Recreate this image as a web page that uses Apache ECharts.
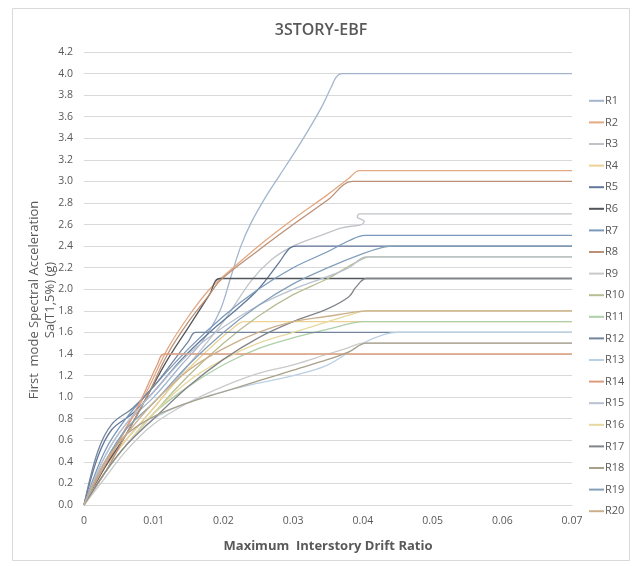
<!DOCTYPE html>
<html>
<head>
<meta charset="utf-8">
<script src="https://cdn.jsdelivr.net/npm/echarts@6/dist/echarts.min.js"></script>
<style>html,body{margin:0;padding:0;background:#fff;}#chart{width:642px;height:566px;}</style>
</head>
<body>
<div id="chart"></div>
<script>
// [drift ratio, Sa(T1,5%) (g)] pairs
const R1 = [[0,0],[0.003,0.45],[0.006,0.75],[0.01,1.0],[0.014,1.3],[0.017,1.52],[0.0195,1.8],[0.021,2.1],[0.0225,2.4],[0.024,2.62],[0.026,2.85],[0.028,3.05],[0.031,3.35],[0.034,3.68],[0.0355,3.88],[0.0362,3.97],[0.037,4.0],[0.07,4.0]];
const R2 = [[0,0],[0.003,0.35],[0.006,0.7],[0.009,1.05],[0.012,1.45],[0.015,1.75],[0.018,2.0],[0.02,2.12],[0.025,2.4],[0.03,2.65],[0.035,2.88],[0.038,3.03],[0.0395,3.1],[0.07,3.1]];
const R3 = [[0,0],[0.003,0.35],[0.006,0.6],[0.01,0.9],[0.015,1.3],[0.02,1.7],[0.024,2.08],[0.027,2.28],[0.03,2.4],[0.034,2.5],[0.037,2.57],[0.0398,2.6],[0.0402,2.63],[0.0392,2.67],[0.0395,2.7],[0.07,2.7]];
const R4 = [[0,0],[0.003,0.35],[0.006,0.6],[0.01,0.9],[0.014,1.2],[0.018,1.45],[0.021,1.62],[0.023,1.7],[0.07,1.7]];
const R5 = [[0,0],[0.002,0.45],[0.004,0.7],[0.007,0.85],[0.01,1.05],[0.014,1.35],[0.018,1.6],[0.022,1.82],[0.025,2.0],[0.028,2.25],[0.0295,2.38],[0.0305,2.4],[0.07,2.4]];
const R6 = [[0,0],[0.003,0.35],[0.006,0.65],[0.009,1.0],[0.012,1.35],[0.015,1.65],[0.018,1.95],[0.0195,2.1],[0.07,2.1]];
const R7 = [[0,0],[0.003,0.5],[0.006,0.8],[0.01,1.1],[0.015,1.45],[0.02,1.75],[0.025,2.0],[0.03,2.2],[0.035,2.35],[0.038,2.45],[0.0403,2.5],[0.07,2.5]];
const R8 = [[0,0],[0.003,0.3],[0.006,0.65],[0.009,1.0],[0.012,1.4],[0.015,1.7],[0.018,1.95],[0.0195,2.08],[0.025,2.36],[0.03,2.6],[0.035,2.83],[0.0385,3.0],[0.07,3.0]];
const R9 = [[0,0],[0.003,0.25],[0.006,0.5],[0.01,0.75],[0.015,0.95],[0.02,1.1],[0.025,1.22],[0.03,1.3],[0.035,1.4],[0.038,1.46],[0.04,1.5],[0.07,1.5]];
const R10 = [[0,0],[0.003,0.3],[0.006,0.55],[0.01,0.85],[0.015,1.2],[0.02,1.5],[0.025,1.75],[0.03,1.95],[0.035,2.1],[0.039,2.25],[0.041,2.3],[0.07,2.3]];
const R11 = [[0,0],[0.003,0.3],[0.006,0.55],[0.01,0.85],[0.015,1.1],[0.02,1.3],[0.025,1.45],[0.03,1.55],[0.035,1.63],[0.038,1.68],[0.04,1.7],[0.07,1.7]];
const R12 = [[0,0],[0.002,0.5],[0.004,0.75],[0.007,0.9],[0.01,1.1],[0.013,1.35],[0.015,1.52],[0.016,1.6],[0.07,1.6]];
const R13 = [[0,0],[0.003,0.3],[0.006,0.55],[0.01,0.8],[0.015,0.95],[0.02,1.05],[0.025,1.13],[0.03,1.2],[0.035,1.3],[0.04,1.5],[0.043,1.58],[0.045,1.6],[0.07,1.6]];
const R14 = [[0,0],[0.002,0.25],[0.005,0.6],[0.008,0.95],[0.0105,1.3],[0.0115,1.4],[0.07,1.4]];
const R15 = [[0,0],[0.003,0.45],[0.006,0.75],[0.01,1.05],[0.015,1.4],[0.02,1.65],[0.025,1.85],[0.03,2.0],[0.035,2.12],[0.038,2.2],[0.0405,2.3],[0.07,2.3]];
const R16 = [[0,0],[0.003,0.3],[0.006,0.55],[0.01,0.85],[0.015,1.15],[0.02,1.35],[0.025,1.5],[0.03,1.6],[0.035,1.7],[0.038,1.76],[0.0405,1.8],[0.07,1.8]];
const R17 = [[0,0],[0.003,0.3],[0.006,0.55],[0.01,0.8],[0.015,1.1],[0.02,1.35],[0.025,1.55],[0.03,1.7],[0.035,1.82],[0.038,1.93],[0.039,2.02],[0.0405,2.1],[0.07,2.1]];
const R18 = [[0,0],[0.003,0.4],[0.006,0.65],[0.01,0.82],[0.015,0.95],[0.02,1.05],[0.025,1.15],[0.03,1.25],[0.035,1.35],[0.038,1.42],[0.0405,1.5],[0.07,1.5]];
const R19 = [[0,0],[0.003,0.4],[0.006,0.7],[0.01,0.95],[0.015,1.3],[0.02,1.6],[0.025,1.85],[0.03,2.05],[0.035,2.2],[0.04,2.33],[0.043,2.39],[0.0445,2.4],[0.07,2.4]];
const R20 = [[0,0],[0.003,0.4],[0.006,0.65],[0.01,0.95],[0.015,1.25],[0.02,1.45],[0.025,1.6],[0.03,1.7],[0.035,1.75],[0.039,1.79],[0.0405,1.8],[0.07,1.8]];

const seriesNames = ['R1','R2','R3','R4','R5','R6','R7','R8','R9','R10','R11','R12','R13','R14','R15','R16','R17','R18','R19','R20'];
const seriesData = [R1,R2,R3,R4,R5,R6,R7,R8,R9,R10,R11,R12,R13,R14,R15,R16,R17,R18,R19,R20];
const seriesColors = ['#a3b5cd','#e2a983','#c0c3c8','#ecd293','#62779a','#52555b','#7a99bb','#bb9076','#c9c9c9','#b8bd92','#add0a8','#72859c','#bad0e4','#dc9d7e','#b8c1d0','#e6d89f','#818489','#a9a08a','#84a0b8','#cbb08d'];
const xTicks = [0,0.01,0.02,0.03,0.04,0.05,0.06,0.07];

const chart = echarts.init(document.getElementById('chart'));
const font = 'Open Sans, Liberation Sans, sans-serif';
chart.setOption({
  backgroundColor: '#ffffff',
  animation: false,
  title: {
    text: '3STORY-EBF', left: 'center', top: 17,
    textStyle: {fontFamily: font, fontSize: 16, fontWeight: 600, color: '#595959'}
  },
  graphic: [
    {type: 'rect', shape: {x: 12.5, y: 8.5, width: 617, height: 552}, style: {fill: 'none', stroke: '#d9d9d9', lineWidth: 1}, silent: true},
    {type: 'text', x: 34, y: 300, rotation: Math.PI/2, style: {text: 'First  mode Spectral Acceleration', font: '13px ' + font, fill: '#595959', align: 'center', verticalAlign: 'middle'}},
    {type: 'text', x: 50, y: 300, rotation: Math.PI/2, style: {text: 'Sa(T1,5%) (g)', font: '13px ' + font, fill: '#595959', align: 'center', verticalAlign: 'middle'}}
  ],
  legend: {
    orient: 'vertical', left: 584, top: 85, itemGap: 0,
    itemWidth: 15, itemHeight: 2, icon: 'rect',
    textStyle: {fontFamily: font, fontSize: 11, color: '#595959', lineHeight: 21.6, padding: [0,0,0,-4]},
    data: seriesNames
  },
  grid: {left: 84, right: 70, top: 52, bottom: 61},
  xAxis: {
    type: 'value', min: 0, max: 0.07, interval: 0.01,
    name: 'Maximum  Interstory Drift Ratio', nameLocation: 'middle', nameGap: 35,
    nameTextStyle: {fontFamily: font, fontSize: 13, fontWeight: 'bold', color: '#595959'},
    axisLine: {show: true, lineStyle: {color: '#d9d9d9'}},
    axisTick: {show: false},
    splitLine: {show: false},
    axisLabel: {fontFamily: font, fontSize: 10.5, color: '#595959', margin: 11,
      formatter: v => { const t = xTicks.find(x => Math.abs(x - v) < 1e-9); return t === undefined ? '' : String(t); }}
  },
  yAxis: {
    type: 'value', min: 0, max: 4.2, interval: 0.2,
    axisLine: {show: false}, axisTick: {show: false},
    splitLine: {lineStyle: {color: '#d9d9d9', width: 1}},
    axisLabel: {fontFamily: font, fontSize: 10.5, color: '#595959', margin: 11, formatter: v => v.toFixed(1)}
  },
  series: seriesNames.map((n, i) => ({
    name: n, type: 'line', data: seriesData[i], showSymbol: false, symbol: 'none',
    smooth: 0.35,
    lineStyle: {width: 1.3, color: seriesColors[i]}, itemStyle: {color: seriesColors[i]},
    z: 2
  }))
});
</script>
</body>
</html>
